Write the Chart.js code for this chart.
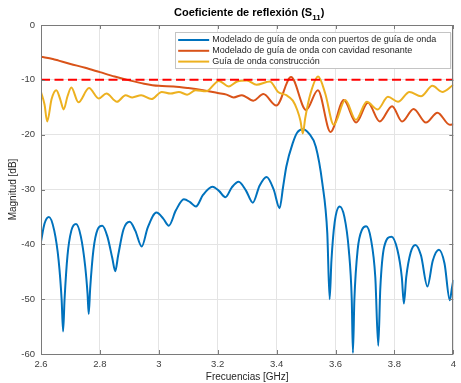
<!DOCTYPE html>
<html lang="es">
<head>
  <meta charset="UTF-8">
  <title>Coeficiente de reflexión (S11)</title>
  <script src="https://cdn.jsdelivr.net/npm/chart.js"></script>
  <style>
    body { margin: 0; background: #fff; }
    canvas { display: block; }
  </style>
</head>
<body>
<canvas id="chart" width="461" height="383"></canvas>

<script>
// Datos (frecuencia en GHz, magnitud en dB)
const freqPuertos = [2.600, 2.612, 2.627, 2.645, 2.660, 2.670, 2.675, 2.680, 2.690, 2.703,
  2.719, 2.735, 2.750, 2.758, 2.762, 2.767, 2.778, 2.792, 2.808, 2.825,
  2.842, 2.852, 2.862, 2.880, 2.901, 2.920, 2.942, 2.962, 2.992, 3.015,
  3.034, 3.058, 3.085, 3.106, 3.126, 3.150, 3.182, 3.205, 3.226, 3.248,
  3.271, 3.296, 3.319, 3.342, 3.366, 3.390, 3.410, 3.422, 3.433, 3.455,
  3.470, 3.489, 3.510, 3.533, 3.555, 3.572, 3.580, 3.586, 3.597, 3.614,
  3.630, 3.645, 3.655, 3.659, 3.664, 3.675, 3.690, 3.704, 3.720, 3.735,
  3.745, 3.752, 3.765, 3.790, 3.810, 3.825, 3.832, 3.840, 3.855, 3.871,
  3.890, 3.912, 3.930, 3.951, 3.970, 3.988, 3.995, 4.000];
const magPuertos = [-39.5, -36.2, -35.0, -37.5, -43.0, -50.0, -55.9, -50.0, -42.0, -37.5,
  -36.3, -38.5, -44.0, -49.0, -52.7, -48.0, -41.0, -37.3, -36.6, -38.5,
  -42.5, -44.9, -42.0, -37.3, -35.9, -37.5, -40.4, -37.0, -34.2, -35.3,
  -36.6, -33.8, -31.8, -32.3, -33.1, -31.0, -29.5, -30.3, -31.4, -29.6,
  -28.6, -30.2, -32.4, -29.3, -27.7, -30.0, -33.4, -29.5, -25.8, -21.5,
  -19.6, -19.0, -19.8, -22.2, -28.8, -38.0, -50.0, -43.0, -36.0, -33.1,
  -35.0, -41.0, -50.0, -59.8, -50.0, -41.0, -37.3, -36.7, -39.0, -46.0,
  -58.5, -48.0, -40.5, -38.6, -41.0, -46.0, -50.8, -46.0, -41.5, -40.1,
  -42.0, -47.7, -43.0, -41.0, -43.5, -50.2, -48.0, -46.5];

const freqCavidad = [2.600, 2.640, 2.660, 2.700, 2.750, 2.800, 2.850, 2.900, 2.950, 3.000,
  3.050, 3.100, 3.150, 3.200, 3.230, 3.254, 3.282, 3.321, 3.355, 3.399,
  3.449, 3.500, 3.540, 3.583, 3.628, 3.670, 3.710, 3.750, 3.792, 3.826,
  3.865, 3.907, 3.946, 3.988, 4.000];
const magCavidad = [-5.8, -6.2, -6.5, -7.1, -7.8, -8.6, -9.4, -10.1, -10.7, -11.1,
  -11.2, -11.5, -11.9, -12.4, -12.7, -13.2, -12.8, -13.8, -12.6, -14.7,
  -9.5, -15.5, -11.9, -19.5, -13.7, -17.8, -14.2, -17.6, -14.8, -17.6,
  -15.3, -17.8, -16.0, -18.2, -18.1];

const freqConstruccion = [2.600, 2.612, 2.621, 2.636, 2.652, 2.665, 2.677, 2.690, 2.703, 2.727,
  2.763, 2.796, 2.822, 2.858, 2.887, 2.910, 2.940, 2.975, 3.010, 3.040,
  3.068, 3.096, 3.125, 3.160, 3.204, 3.238, 3.266, 3.299, 3.332, 3.366,
  3.377, 3.405, 3.433, 3.455, 3.470, 3.481, 3.489, 3.497, 3.515, 3.541,
  3.565, 3.594, 3.633, 3.669, 3.706, 3.743, 3.778, 3.812, 3.851, 3.890,
  3.929, 3.962, 4.000];
const magConstruccion = [-12.2, -14.5, -17.6, -13.5, -11.9, -13.5, -15.4, -13.0, -11.4, -14.1,
  -11.5, -13.4, -12.5, -14.0, -12.8, -13.2, -12.8, -13.5, -12.2, -12.5,
  -12.2, -12.7, -11.9, -12.1, -10.2, -11.2, -10.3, -10.1, -10.9, -10.4,
  -10.3, -12.2, -12.8, -13.8, -15.5, -17.5, -19.8, -17.0, -12.5, -9.4,
  -12.5, -18.2, -13.7, -17.3, -14.0, -15.4, -13.1, -14.0, -12.2, -13.0,
  -11.1, -12.2, -10.9];

const freqUmbral = [2.6, 4];
const magUmbral = [-10, -10];

const xTicks = [2.6, 2.8, 3, 3.2, 3.4, 3.6, 3.8, 4];
const yTicks = [0, -10, -20, -30, -40, -50, -60];

const etiquetas = [
  "Modelado de guía de onda con puertos de guía de onda",
  "Modelado de guía de onda con cavidad resonante",
  "Guía de onda construcción"
];
const colores = ["#0072BD", "#D95319", "#EDB120"];

const FUENTE = "'Liberation Sans', Arial, Helvetica, sans-serif";

function puntos(xs, ys) {
  return xs.map((x, i) => ({ x: x, y: ys[i] }));
}

function serie(label, xs, ys, color, orden) {
  return {
    label: label,
    data: puntos(xs, ys),
    borderColor: color,
    backgroundColor: color,
    borderWidth: 2,
    pointRadius: 0,
    cubicInterpolationMode: "monotone",
    borderJoinStyle: "round",
    order: orden
  };
}

// marco de ejes con marcas hacia dentro (estilo MATLAB)
const marcoEjes = {
  id: "marcoEjes",
  afterDatasetsDraw(chart) {
    const { ctx, chartArea: a, scales } = chart;
    ctx.save();
    ctx.strokeStyle = "#7a7a7a";
    ctx.lineWidth = 1;
    ctx.beginPath();
    xTicks.forEach(v => {
      const px = Math.round(scales.x.getPixelForValue(v)) + 0.5;
      ctx.moveTo(px, a.bottom); ctx.lineTo(px, a.bottom - 4);
      ctx.moveTo(px, a.top); ctx.lineTo(px, a.top + 4);
    });
    yTicks.forEach(v => {
      const py = Math.round(scales.y.getPixelForValue(v)) + 0.5;
      ctx.moveTo(a.left, py); ctx.lineTo(a.left + 4, py);
      ctx.moveTo(a.right, py); ctx.lineTo(a.right - 4, py);
    });
    ctx.stroke();
    ctx.strokeRect(Math.round(a.left) + 0.5, Math.round(a.top) + 0.5,
      Math.round(a.right - a.left) - 1, Math.round(a.bottom - a.top));
    ctx.restore();
  }
};

// título con subíndice
const tituloS11 = {
  id: "tituloS11",
  afterDraw(chart) {
    const { ctx, chartArea: a } = chart;
    const principal = "Coeficiente de reflexión (S";
    const sub = "11";
    const cierre = ")";
    ctx.save();
    ctx.fillStyle = "#000";
    ctx.textBaseline = "alphabetic";
    ctx.font = "bold 11px " + FUENTE;
    const w1 = ctx.measureText(principal).width;
    const w3 = ctx.measureText(cierre).width;
    ctx.font = "bold 8px " + FUENTE;
    const w2 = ctx.measureText(sub).width;
    let x = (a.left + a.right) / 2 - (w1 + w2 + w3) / 2 + 2;
    ctx.font = "bold 11px " + FUENTE;
    ctx.fillText(principal, x, 16);
    x += w1;
    ctx.font = "bold 8px " + FUENTE;
    ctx.fillText(sub, x, 20);
    x += w2;
    ctx.font = "bold 11px " + FUENTE;
    ctx.fillText(cierre, x, 16);
    ctx.restore();
  }
};

// leyenda dentro del área de gráfico, arriba a la derecha
const leyenda = {
  id: "leyenda",
  afterDraw(chart) {
    const { ctx, chartArea: a } = chart;
    const series = chart.data.datasets.filter(d => etiquetas.includes(d.label));
    ctx.save();
    ctx.font = "9px " + FUENTE;
    const anchoTexto = Math.max(...series.map(d => ctx.measureText(d.label).width));
    const w = 37 + anchoTexto + 14;
    const h = 36;
    const x0 = a.right - 8 - w + 5;
    const y0 = a.top + 7;
    ctx.fillStyle = "rgba(0,0,0,0.12)";
    ctx.fillRect(x0 + 1, y0 + 1, w, h);
    ctx.fillStyle = "#fff";
    ctx.fillRect(x0, y0, w, h);
    ctx.strokeStyle = "#c4c4c4";
    ctx.lineWidth = 1;
    ctx.strokeRect(Math.round(x0) + 0.5, Math.round(y0) + 0.5, Math.round(w), h);
    ctx.textBaseline = "middle";
    series.forEach((d, i) => {
      const y = y0 + 8 + i * 10.8;
      ctx.strokeStyle = d.borderColor;
      ctx.lineWidth = 2;
      ctx.beginPath();
      ctx.moveTo(x0 + 3, y);
      ctx.lineTo(x0 + 34, y);
      ctx.stroke();
      ctx.fillStyle = "#262626";
      ctx.fillText(d.label, x0 + 37, y);
    });
    ctx.restore();
  }
};

new Chart(document.getElementById("chart").getContext("2d"), {
  type: "line",
  data: {
    datasets: [
      {
        label: "umbral",
        data: puntos(freqUmbral, magUmbral),
        borderColor: "#FF0000",
        borderWidth: 2,
        borderDash: [9, 4.5],
        pointRadius: 0,
        order: 0
      },
      serie(etiquetas[0], freqPuertos, magPuertos, colores[0], 3),
      serie(etiquetas[1], freqCavidad, magCavidad, colores[1], 2),
      serie(etiquetas[2], freqConstruccion, magConstruccion, colores[2], 1)
    ]
  },
  options: {
    responsive: false,
    animation: false,
    devicePixelRatio: 1,
    layout: { padding: { top: 25, right: 2, left: 0, bottom: 0 } },
    plugins: {
      legend: { display: false },
      title: { display: false },
      tooltip: { enabled: false }
    },
    scales: {
      x: {
        type: "linear",
        min: 2.6,
        max: 4,
        afterBuildTicks: s => { s.ticks = xTicks.map(v => ({ value: v })); },
        afterFit: s => { s.height = 29; },
        ticks: {
          autoSkip: false,
          maxRotation: 0,
          padding: 5,
          color: "#404040",
          font: { family: FUENTE, size: 9.5 },
          callback: v => String(v)
        },
        grid: { color: "#e4e4e4", drawTicks: false },
        border: { display: false },
        title: {
          display: true,
          text: "Frecuencias [GHz]",
          color: "#262626",
          font: { family: FUENTE, size: 10, lineHeight: 1.1 },
          padding: { top: 0, bottom: 0 }
        }
      },
      y: {
        min: -60,
        max: 0,
        afterBuildTicks: s => { s.ticks = yTicks.map(v => ({ value: v })); },
        afterFit: s => { s.width = 41; },
        ticks: {
          autoSkip: false,
          padding: 6,
          color: "#404040",
          font: { family: FUENTE, size: 9.5 },
          callback: v => String(v)
        },
        grid: { color: "#e4e4e4", drawTicks: false },
        border: { display: false },
        title: {
          display: true,
          text: "Magnitud [dB]",
          color: "#262626",
          font: { family: FUENTE, size: 10 },
          padding: { top: 7.5, bottom: 0 }
        }
      }
    }
  },
  plugins: [marcoEjes, tituloS11, leyenda]
});
</script>
</body>
</html>
